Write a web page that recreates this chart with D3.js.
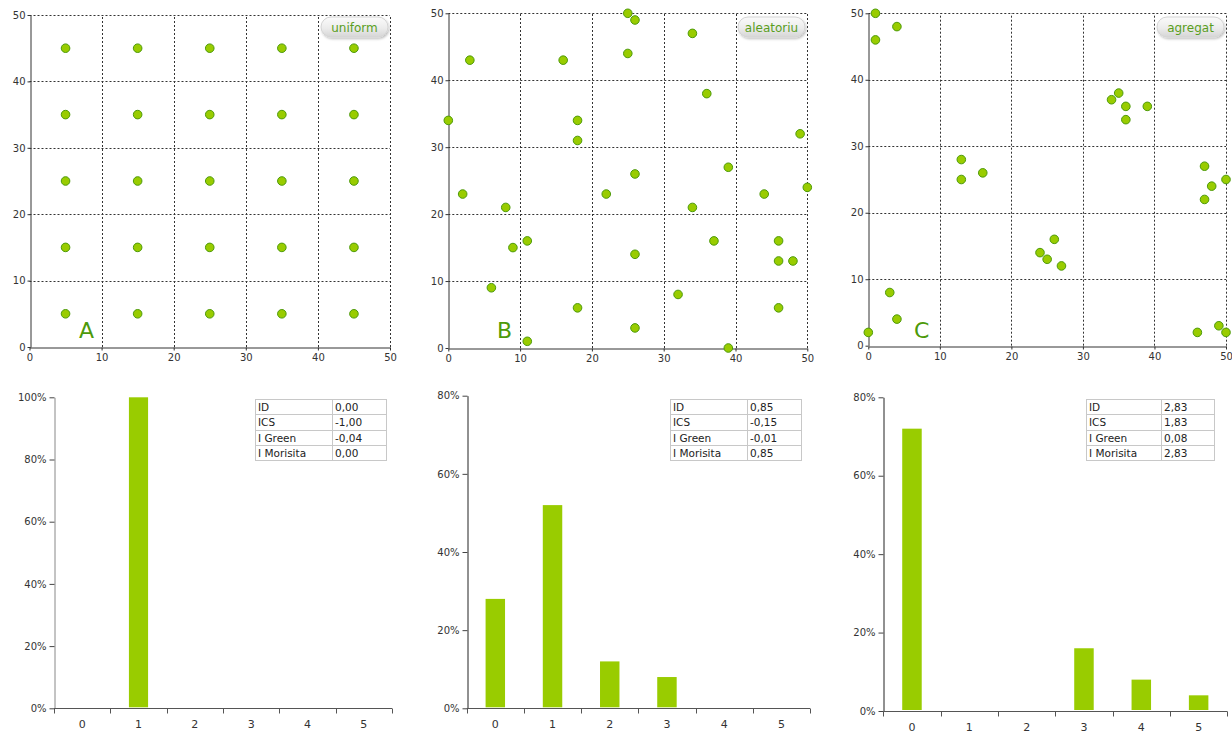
<!DOCTYPE html>
<html>
<head>
<meta charset="utf-8">
<script src="https://cdn.jsdelivr.net/npm/d3@7"></script>
<style>
  html, body { margin: 0; padding: 0; background: #fff; }
  svg { display: block; font-family: "DejaVu Sans", Verdana, sans-serif; }
</style>
</head>
<body>
<svg id="chart" width="1232" height="733"></svg>
<script>
// ---------- DATA ----------
const pointsA = [
  [5,45],[15,45],[25,45],[35,45],[45,45],
  [5,35],[15,35],[25,35],[35,35],[45,35],
  [5,25],[15,25],[25,25],[35,25],[45,25],
  [5,15],[15,15],[25,15],[35,15],[45,15],
  [5,5],[15,5],[25,5],[35,5],[45,5]
];
const pointsB = [
  [25,50],[26,49],[34,47],[3,43],[16,43],[25,44],[36,38],[0,34],[18,34],[18,31],
  [49,32],[39,27],[26,26],[2,23],[22,23],[44,23],[50,24],[8,21],[34,21],[11,16],
  [9,15],[26,14],[37,16],[46,16],[46,13],[48,13],[6,9],[32,8],[18,6],[46,6],
  [26,3],[11,1],[39,0]
];
const pointsC = [
  [1,50],[1,46],[4,48],[13,28],[13,25],[16,26],[34,37],[35,38],[36,36],[36,34],
  [39,36],[47,27],[48,24],[47,22],[50,25],[24,14],[25,13],[26,16],[27,12],[3,8],
  [4,4],[0,2],[46,2],[49,3],[50,2]
];
const scatterTicks = [0,10,20,30,40,50];
const panelLetters = ["A","B","C"];
const badgeLabels = ["uniform","aleatoriu","agregat"];

const histCategories = ["0","1","2","3","4","5"];
const histA = [0,100,0,0,0,0];
const histB = [28,52,12,8,0,0];
const histC = [72,0,0,16,8,4];
const histMaxA = 100, histMaxB = 80, histMaxC = 80;
const histTicksA = [0,20,40,60,80,100];
const histTicksBC = [0,20,40,60,80];

const statLabels = ["ID","ICS","I Green","I Morisita"];
const statsA = ["0,00","-1,00","-0,04","0,00"];
const statsB = ["0,85","-0,15","-0,01","0,85"];
const statsC = ["2,83","1,83","0,08","2,83"];

// ---------- LAYOUT ----------
const svg = d3.select("#chart");
const GREEN = "#99cc00";
const DOT_STROKE = "#4d9a0a";
const TEXT = "#333";

const defs = svg.append("defs");
const grad = defs.append("linearGradient").attr("id","pill").attr("x1",0).attr("y1",0).attr("x2",0).attr("y2",1);
grad.append("stop").attr("offset","0%").attr("stop-color","#fbfbfb");
grad.append("stop").attr("offset","55%").attr("stop-color","#ececec");
grad.append("stop").attr("offset","100%").attr("stop-color","#d6d6d6");
const filt = defs.append("filter").attr("id","shadow").attr("x","-20%").attr("y","-30%").attr("width","140%").attr("height","180%");
filt.append("feDropShadow").attr("dx",1).attr("dy",1.5).attr("stdDeviation",1).attr("flood-color","#000").attr("flood-opacity",0.25);

const scatterPanels = [
  {pts: pointsA, x0: 29.5, x1: 390, y0: 347, y1: 15, letter: panelLetters[0], letterX: 79, badge: badgeLabels[0], bx0: 321, bx1: 388},
  {pts: pointsB, x0: 448.3, x1: 807.3, y0: 348, y1: 13.3, letter: panelLetters[1], letterX: 497, badge: badgeLabels[1], bx0: 738, bx1: 805},
  {pts: pointsC, x0: 868.3, x1: 1226, y0: 345.7, y1: 13.3, letter: panelLetters[2], letterX: 914, badge: badgeLabels[2], bx0: 1157, bx1: 1224}
];

scatterPanels.forEach(p => {
  const x = d3.scaleLinear().domain([0,50]).range([p.x0, p.x1]);
  const y = d3.scaleLinear().domain([0,50]).range([p.y0, p.y1]);
  const g = svg.append("g");

  // dotted grid
  g.selectAll(".vg").data(scatterTicks.filter(t => t > 0)).join("line")
    .attr("x1", d => Math.round(x(d)) + 0.5).attr("x2", d => Math.round(x(d)) + 0.5)
    .attr("y1", y(0)).attr("y2", y(50))
    .attr("stroke", "#333").attr("stroke-dasharray", "2,2");
  g.selectAll(".hg").data(scatterTicks.filter(t => t > 0)).join("line")
    .attr("y1", d => Math.round(y(d)) + 0.5).attr("y2", d => Math.round(y(d)) + 0.5)
    .attr("x1", x(0)).attr("x2", x(50))
    .attr("stroke", "#333").attr("stroke-dasharray", "2,2");

  // axes
  const xa = g.append("g").attr("transform", `translate(0,${Math.round(y(0)) + 0.5})`)
    .call(d3.axisBottom(x).tickValues(scatterTicks).tickSize(3).tickSizeOuter(0));
  const ya = g.append("g").attr("transform", `translate(${Math.round(x(0)) + 0.5},0)`)
    .call(d3.axisLeft(y).tickValues(scatterTicks).tickSize(3).tickSizeOuter(0));
  [xa, ya].forEach(a => {
    a.select(".domain").attr("stroke", "#333");
    a.selectAll(".tick line").attr("stroke", "#333");
    a.selectAll("text").attr("fill", TEXT).style("font-size", "10px").style("font-family", '"DejaVu Sans", sans-serif');
  });
  xa.selectAll("text").attr("dy", "0.9em").attr("y", 4);
  ya.selectAll("text").attr("x", -5);

  // letter
  g.append("text").attr("x", p.letterX).attr("y", 338)
    .attr("fill", "#4d9a0a").style("font-size", "22px").text(p.letter);

  // badge
  const bw = p.bx1 - p.bx0;
  g.append("rect").attr("x", p.bx0).attr("y", 17).attr("width", bw).attr("height", 20)
    .attr("rx", 10).attr("ry", 10).attr("fill", "url(#pill)").attr("stroke", "#d4d4d4")
    .attr("filter", "url(#shadow)");
  g.append("text").attr("x", p.bx0 + bw / 2).attr("y", 31.5).attr("text-anchor", "middle")
    .attr("fill", "#5a9e1e").style("font-size", "12px").text(p.badge);

  // points
  g.selectAll("circle").data(p.pts).join("circle")
    .attr("cx", d => x(d[0])).attr("cy", d => y(d[1])).attr("r", 4.3)
    .attr("fill", GREEN).attr("stroke", DOT_STROKE).attr("stroke-width", 1);
});

// ---------- HISTOGRAMS ----------
const histPanels = [
  {vals: histA, max: histMaxA, ticks: histTicksA, x0: 54, x1: 392, y0: 708.3, y1: 397.3, stats: statsA, tx0: 255, tsplit: 332, tx1: 386, yAxisColor: "#888"},
  {vals: histB, max: histMaxB, ticks: histTicksBC, x0: 466.7, x1: 810, y0: 708.3, y1: 395.7, stats: statsB, tx0: 670, tsplit: 747, tx1: 801, yAxisColor: "#222"},
  {vals: histC, max: histMaxC, ticks: histTicksBC, x0: 883.3, x1: 1227.3, y0: 711, y1: 397.3, stats: statsC, tx0: 1086, tsplit: 1161, tx1: 1214, yAxisColor: "#222"}
];

histPanels.forEach(p => {
  const x = d3.scaleBand().domain(histCategories).range([p.x0, p.x1]).padding(0);
  const y = d3.scaleLinear().domain([0, p.max]).range([p.y0, p.y1]);
  const g = svg.append("g");
  const bw = x.bandwidth() * 0.34;

  g.selectAll("rect.bar").data(p.vals.map((v, i) => ({c: histCategories[i], v}))).join("rect")
    .attr("class", "bar")
    .attr("x", d => x(d.c) + (x.bandwidth() - bw) / 2)
    .attr("width", bw)
    .attr("y", d => y(d.v))
    .attr("height", d => Math.max(0, y(0) - y(d.v) - 1))
    .attr("fill", GREEN);

  // y axis
  const ya = g.append("g").attr("transform", `translate(${Math.round(p.x0) + 0.5},0)`)
    .call(d3.axisLeft(y).tickValues(p.ticks).tickSize(5).tickSizeOuter(0).tickFormat(d => d + "%"));
  ya.select(".domain").attr("stroke", p.yAxisColor);
  ya.selectAll(".tick line").attr("stroke", "#444");
  ya.selectAll("text").attr("fill", TEXT).attr("x", -8).style("font-size", "10px").style("font-family", '"DejaVu Sans", sans-serif');

  // x axis with ticks at band boundaries
  const xg = g.append("g");
  const yb = Math.round(p.y0) + 0.5;
  xg.append("line").attr("x1", p.x0).attr("x2", p.x1).attr("y1", yb).attr("y2", yb).attr("stroke", "#555");
  const bounds = histCategories.map(c => x(c)).concat([p.x1]);
  xg.selectAll("line.t").data(bounds).join("line").attr("class", "t")
    .attr("x1", d => Math.round(d) + 0.5).attr("x2", d => Math.round(d) + 0.5)
    .attr("y1", yb).attr("y2", yb + 5).attr("stroke", "#555");
  xg.selectAll("text").data(histCategories).join("text")
    .attr("x", d => x(d) + x.bandwidth() / 2).attr("y", p.y0 + 20)
    .attr("text-anchor", "middle").attr("fill", TEXT).style("font-size", "11px").text(d => d);

  // stats table
  const rowH = 15.25, ty0 = 399;
  const tg = g.append("g");
  tg.append("rect").attr("x", p.tx0 + 0.5).attr("y", ty0 + 0.5)
    .attr("width", p.tx1 - p.tx0).attr("height", rowH * statLabels.length)
    .attr("fill", "#fff").attr("stroke", "#c8c8c8");
  statLabels.forEach((lab, i) => {
    if (i > 0) tg.append("line").attr("x1", p.tx0).attr("x2", p.tx1 + 0.5)
      .attr("y1", Math.round(ty0 + i * rowH) + 0.5).attr("y2", Math.round(ty0 + i * rowH) + 0.5)
      .attr("stroke", "#c8c8c8");
  });
  tg.append("line").attr("x1", p.tsplit + 0.5).attr("x2", p.tsplit + 0.5)
    .attr("y1", ty0).attr("y2", ty0 + rowH * statLabels.length).attr("stroke", "#c8c8c8");
  tg.selectAll("text.l").data(statLabels).join("text").attr("class", "l")
    .attr("x", p.tx0 + 3).attr("y", (d, i) => ty0 + i * rowH + 12)
    .attr("fill", "#222").style("font-size", "10.5px").text(d => d);
  tg.selectAll("text.v").data(p.stats).join("text").attr("class", "v")
    .attr("x", p.tsplit + 3).attr("y", (d, i) => ty0 + i * rowH + 12)
    .attr("fill", "#222").style("font-size", "10.5px").text(d => d);
});
</script>
</body>
</html>
